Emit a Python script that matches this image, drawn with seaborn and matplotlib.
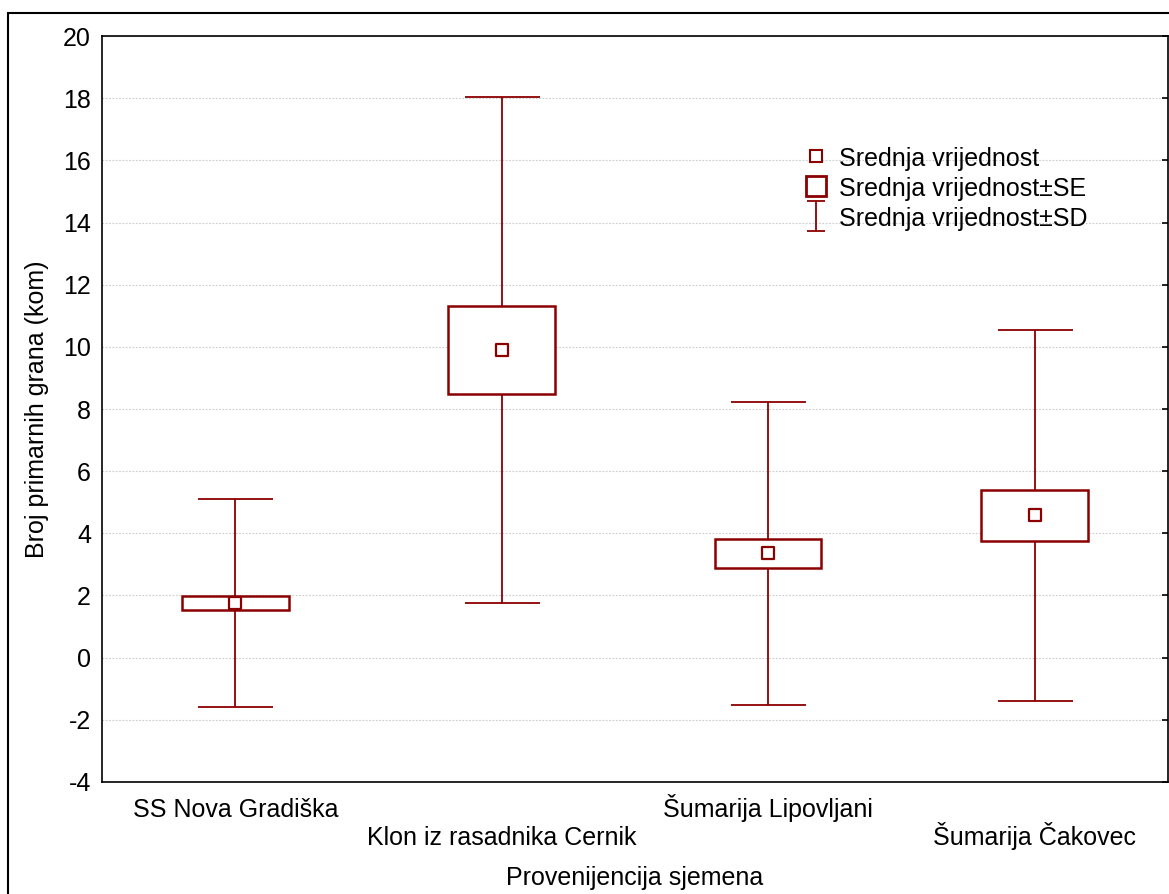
import numpy as np
import pandas as pd
import matplotlib
matplotlib.use('Agg')
import matplotlib.pyplot as plt
from matplotlib.patches import Rectangle
from matplotlib.lines import Line2D
from matplotlib.path import Path
from matplotlib.transforms import ScaledTranslation
import seaborn as sns

groups = ['SS Nova Gradiška', 'Klon iz rasadnika Cernik', 'Šumarija Lipovljani', 'Šumarija Čakovec']
means  = [1.75, 9.90, 3.36, 4.58]
se     = [0.23, 1.42, 0.465, 0.82]
sd     = [3.35, 8.15, 4.87, 5.97]

df = pd.DataFrame({'grupa': groups, 'mean': means, 'se': se, 'sd': sd})
red = '#8B0000'

sns.set_style('white')
plt.rcParams['font.family'] = ['Liberation Sans', 'DejaVu Sans']
plt.rcParams['axes.unicode_minus'] = False
plt.rcParams['text.color'] = 'black'
plt.rcParams['axes.labelcolor'] = 'black'
plt.rcParams['xtick.color'] = 'black'
plt.rcParams['ytick.color'] = 'black'
fs = 18

fig = plt.figure(figsize=(11.69, 8.94), dpi=100)
ax = fig.add_axes([0.0873, 0.1253, 0.9117, 0.8344])

x = np.arange(len(groups))
# SD whiskers
ax.errorbar(x, df['mean'], yerr=df['sd'], fmt='none', ecolor=red, elinewidth=1.3,
            capsize=27, capthick=1.3, zorder=2)
# SE boxes
ax.bar(x, 2*df['se'], bottom=df['mean']-df['se'], width=0.4, facecolor='white',
       edgecolor=red, linewidth=1.8, zorder=3)
# means
sns.scatterplot(data=df, x='grupa', y='mean', marker='s', s=75, color='white',
                edgecolor=red, linewidth=1.6, ax=ax, zorder=4, legend=False)

ax.set_xlim(-0.5, 3.5)
ax.set_ylim(-4, 20)
ax.set_yticks(range(-4, 21, 2))
ax.set_xticks(x)
ax.set_xticklabels(groups, fontsize=fs, va='baseline')
ax.tick_params(axis='y', direction='in', length=4, width=1.2, right=True, labelsize=fs, pad=8)
ax.tick_params(axis='x', direction='in', length=4, width=1.2, labelsize=fs, pad=6)
# staggered tick labels (two rows)
for i, lab in enumerate(ax.get_xticklabels()):
    off = 27 if i % 2 == 0 else 55
    lab.set_transform(lab.get_transform() + ScaledTranslation(0, -off/100, fig.dpi_scale_trans))
ax.yaxis.grid(True, linestyle=(0, (1.5, 1.5)), color='#cccccc', linewidth=0.8)
ax.set_axisbelow(True)
for s in ax.spines.values():
    s.set_color('black')
    s.set_linewidth(1.2)
ax.set_xlabel('Provenijencija sjemena', fontsize=fs)
ax.xaxis.set_label_coords(0.5, -0.112)
ax.set_ylabel('Broj primarnih grana (kom)', fontsize=fs, labelpad=10)

# legend
ibeam = Path([(-0.3, -0.5), (0.3, -0.5), (0, -0.5), (0, 0.5), (-0.3, 0.5), (0.3, 0.5)],
             [Path.MOVETO, Path.LINETO, Path.MOVETO, Path.LINETO, Path.MOVETO, Path.LINETO])
h_mean = Line2D([], [], marker='s', linestyle='none', markersize=8.5, markerfacecolor='white',
                markeredgecolor=red, markeredgewidth=1.5)
h_se = Line2D([], [], marker='s', linestyle='none', markersize=15, markerfacecolor='white',
              markeredgecolor=red, markeredgewidth=2)
h_sd = Line2D([], [], marker=ibeam, linestyle='none', markersize=21, markerfacecolor='none',
              markeredgecolor=red, markeredgewidth=1.3)
ax.legend([h_mean, h_se, h_sd],
          ['Srednja vrijednost', 'Srednja vrijednost±SE', 'Srednja vrijednost±SD'],
          loc='upper left', bbox_to_anchor=(0.649, 0.867), frameon=False, fontsize=fs,
          handlelength=1.0, handleheight=1.2, handletextpad=0.4, labelspacing=0.15,
          borderaxespad=0)

# outer frame
fig.patches.append(Rectangle((8/1169, -0.05), 1.2, 0.05 + 1 - 13/894, transform=fig.transFigure,
                             fill=False, edgecolor='black', linewidth=1.5, zorder=0))

fig.savefig('out.png', dpi=100)
